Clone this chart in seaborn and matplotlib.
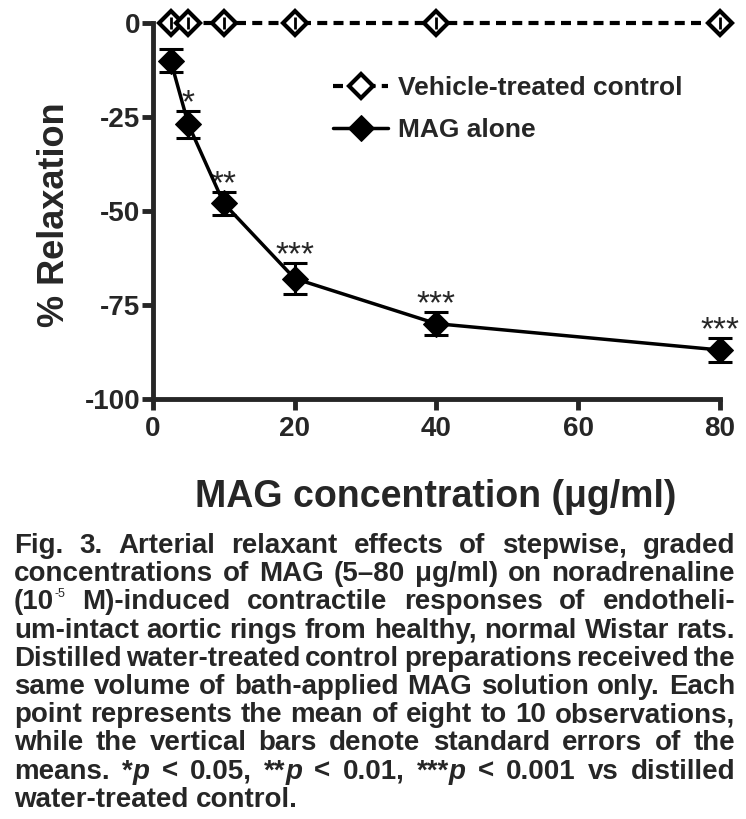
import matplotlib
matplotlib.use("Agg")
import matplotlib.pyplot as plt
from matplotlib import font_manager
import seaborn as sns
import pandas as pd

# data
conc = [2.5, 5, 10, 20, 40, 80]
vehicle_mean = [0, 0, 0, 0, 0, 0]
vehicle_se = [1.5, 1.5, 1.5, 1.5, 1.5, 1.5]
mag_mean = [-10, -27, -48, -68, -80, -87]
mag_se = [3.0, 3.7, 3.0, 4.1, 3.1, 3.2]
stars = ["", "*", "**", "***", "***", "***"]
xticks = [0, 20, 40, 60, 80]
yticks = [0, -25, -50, -75, -100]

caption = [
    "Fig. 3. Arterial relaxant effects of stepwise, graded",
    "concentrations of MAG (5–80 μg/ml) on noradrenaline",
    "(10^-5 M)-induced contractile responses of endotheli-",
    "um-intact aortic rings from healthy, normal Wistar rats.",
    "Distilled water-treated control preparations received the",
    "same volume of bath-applied MAG solution only. Each",
    "point represents the mean of eight to 10 observations,",
    "while the vertical bars denote standard errors of the",
    "means. *_p_ < 0.05, **_p_ < 0.01, ***_p_ < 0.001 vs distilled",
    "water-treated control.",
]

sns.set_style("ticks")
names = {f.name for f in font_manager.fontManager.ttflist}
narrow = "Liberation Sans Narrow" if "Liberation Sans Narrow" in names else "Liberation Sans"
plt.rcParams["font.family"] = ["Liberation Sans", "DejaVu Sans"]

fig = plt.figure(figsize=(7.46, 8.19), dpi=100)
ax = fig.add_axes([0.205, 0.513, 0.760, 0.459])

df_v = pd.DataFrame({"conc": conc, "val": vehicle_mean})
df_m = pd.DataFrame({"conc": conc, "val": mag_mean})

sns.lineplot(data=df_v, x="conc", y="val", ax=ax, color="black", lw=3,
             linestyle=(0, (2.4, 1.5)), marker="D", markersize=12,
             markerfacecolor="white", markeredgecolor="black", markeredgewidth=3,
             label="Vehicle-treated control", clip_on=False, zorder=4)
sns.lineplot(data=df_m, x="conc", y="val", ax=ax, color="black", lw=2.5,
             marker="D", markersize=13, markeredgecolor="black",
             label="MAG alone", clip_on=False, zorder=4)

ax.errorbar(conc, vehicle_mean, yerr=vehicle_se, fmt="none", ecolor="black",
            elinewidth=2, capsize=0, clip_on=False, zorder=5)
ax.errorbar(conc, mag_mean, yerr=mag_se, fmt="none", ecolor="black",
            elinewidth=2.2, capsize=8.5, capthick=2.2, clip_on=False, zorder=3)

for x, m, s, st in zip(conc, mag_mean, mag_se, stars):
    if st:
        ax.annotate(st, (x, m + s), xytext=(0, -6), textcoords="offset points",
                    ha="center", va="bottom", fontsize=24, fontweight="normal")

ax.set_xlim(0, 80)
ax.set_ylim(-100, 0)
ax.set_xticks(xticks)
ax.set_yticks(yticks)
ax.set_xticklabels([str(t) for t in xticks], fontsize=20, fontweight="bold")
ax.set_yticklabels([str(t) for t in yticks], fontsize=20, fontweight="bold")
sns.despine(ax=ax)
for sp in ["left", "bottom"]:
    ax.spines[sp].set_linewidth(3.5)
    ax.spines[sp].set_capstyle("projecting")
ax.tick_params(axis="both", length=8, width=3.5, direction="out")
ax.tick_params(axis="y", pad=1)
ax.tick_params(axis="x", pad=4)
ax.set_xlabel("")
ax.set_ylabel("")

fig.text(55 / 746, 1 - 215 / 819, "% Relaxation", rotation=90, ha="center",
         va="center", fontsize=26, fontweight="bold")
fig.text(436 / 746, 1 - 497 / 819, "MAG concentration (μg/ml)", ha="center",
         va="center", fontsize=27, fontweight="bold", family=[narrow, "DejaVu Sans"])

leg = ax.legend(loc="upper left", bbox_to_anchor=(333 / 746, 1 - 76 / 819),
                bbox_transform=fig.transFigure, frameon=False, handlelength=2.1,
                handletextpad=0.35, labelspacing=0.7, borderpad=0, borderaxespad=0,
                prop={"size": 19, "weight": "bold"})

# caption, justified line by line
fs = 20
x0, x1 = 14 / 746, 735 / 746
ytop = 1 - 546 / 819
dy = 28.2 / 819
renderer = fig.canvas.get_renderer()
W = fig.bbox.width


def segments(word):
    if "^" in word:
        base, sup = word.split("^")
        return [(base, "n"), (sup, "sup")]
    if "_" in word:
        parts = word.split("_")
        return [(p, "i" if k % 2 else "n") for k, p in enumerate(parts) if p]
    return [(word, "n")]


def seg_kw(style):
    kw = dict(fontsize=fs, fontweight="bold", family=[narrow, "DejaVu Sans"])
    if style == "i":
        kw["style"] = "italic"
    if style == "sup":
        kw["fontsize"] = 9
        kw["fontweight"] = "normal"
    return kw


def width(s, style):
    t = fig.text(0, 0, s, **seg_kw(style))
    w = t.get_window_extent(renderer).width / W
    t.remove()
    return w


for i, line in enumerate(caption):
    y = ytop - i * dy
    words = [segments(w) for w in line.split(" ")]
    wws = [[width(s, st) for s, st in w] for w in words]
    total = sum(sum(w) for w in wws)
    space = width("a a", "n") - 2 * width("a", "n")
    if i < len(caption) - 1:
        gap = (x1 - x0 - total) / (len(words) - 1)
    else:
        gap = space
    x = x0
    for w, ww in zip(words, wws):
        for (s, st), sw in zip(w, ww):
            yy = y + (8 / 819 if st == "sup" else 0)
            fig.text(x, yy, s, ha="left", va="center", **seg_kw(st))
            x += sw
        x += gap

fig.savefig("out.png", dpi=100)
